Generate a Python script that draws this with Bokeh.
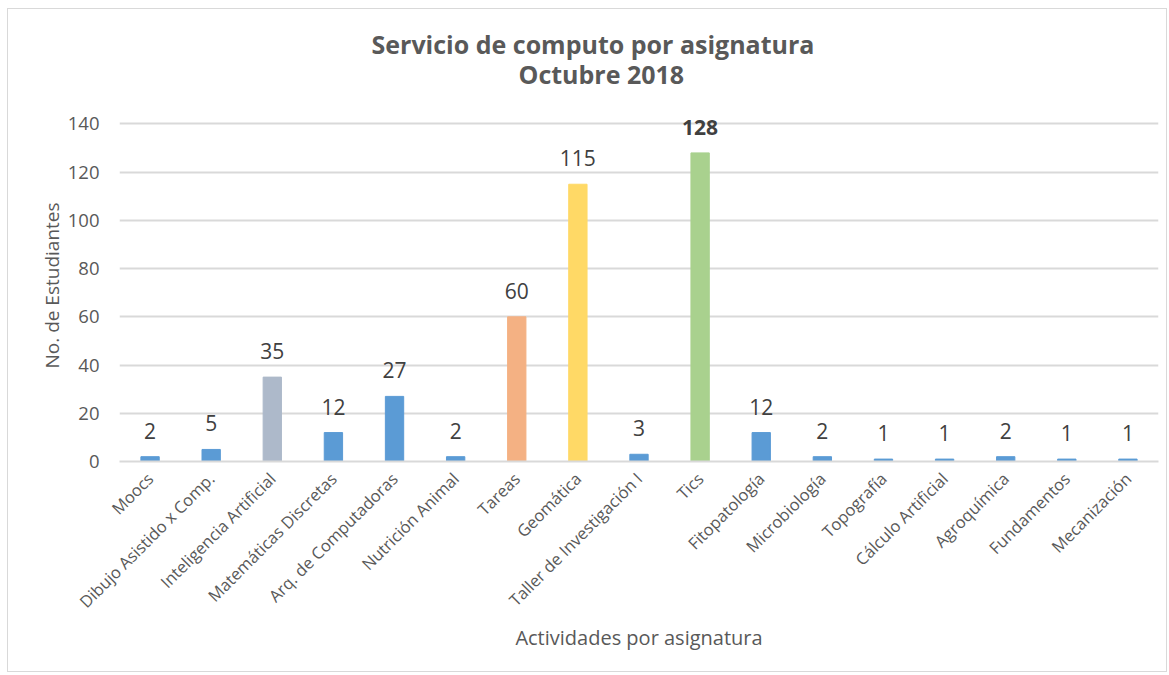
import math
from bokeh.plotting import figure
from bokeh.models import ColumnDataSource, LabelSet, FactorRange, Range1d, Title
from bokeh.core.properties import value
from bokeh.embed import file_html
from bokeh.resources import INLINE

categories = ["Moocs", "Dibujo Asistido x Comp.", "Inteligencia Artificial", "Matemáticas Discretas",
              "Arq. de Computadoras", "Nutrición Animal", "Tareas", "Geomática", "Taller de Investigación I",
              "Tics", "Fitopatología", "Microbiología", "Topografía", "Cálculo Artificial", "Agroquímica",
              "Fundamentos", "Mecanización"]
values = [2, 5, 35, 12, 27, 2, 60, 115, 3, 128, 12, 2, 1, 1, 2, 1, 1]
colors = ["#5B9BD5", "#5B9BD5", "#ADB9CA", "#5B9BD5", "#5B9BD5", "#5B9BD5", "#F4B183", "#FFD966",
          "#5B9BD5", "#A9D18E", "#5B9BD5", "#5B9BD5", "#5B9BD5", "#5B9BD5", "#5B9BD5", "#5B9BD5", "#5B9BD5"]
y_ticks = [0, 20, 40, 60, 80, 100, 120, 140]
title_lines = ["Servicio de computo por asignatura", "Octubre 2018"]

FONT = "Open Sans"
TXT = "#595959"

labels_txt = [str(v) for v in values]
bold = ["bold" if v == max(values) else "normal" for v in values]
src = ColumnDataSource(dict(x=categories, top=values, color=colors, lab=labels_txt, fs=bold))

p = figure(x_range=FactorRange(*categories), y_range=Range1d(0, 146),
           width=1160, height=664, output_backend="svg", toolbar_location=None,
           min_border_left=111, min_border_right=10, min_border_top=100, min_border_bottom=212)
p.title = None
p.styles = {"border": "1px solid #D9D9D9", "margin-left": "7px", "margin-top": "8px"}
p.outline_line_color = None
p.background_fill_color = "white"
p.border_fill_color = "white"

p.vbar(x="x", top="top", width=0.3, color="color", source=src)

p.add_layout(LabelSet(x="x", y="top", text="lab", source=src, text_align="center",
                      text_baseline="bottom", y_offset=18, text_font_size="21px",
                      text_color="#404040", text_font=value(FONT), text_font_style="fs"))

p.xaxis.major_label_orientation = math.pi / 4
p.xaxis.major_label_text_font = FONT
p.xaxis.major_label_text_font_size = "16.5px"
p.xaxis.major_label_text_color = TXT
p.xaxis.major_tick_line_color = None
p.xaxis.minor_tick_line_color = None
p.xaxis.axis_line_color = "#D9D9D9"
p.xaxis.axis_line_width = 2
p.xaxis.axis_label = "Actividades por asignatura"
p.xaxis.axis_label_text_font = FONT
p.xaxis.axis_label_text_font_size = "20px"
p.xaxis.axis_label_text_font_style = "normal"
p.xaxis.axis_label_text_color = TXT
p.xaxis.axis_label_standoff = 0
p.xaxis.major_label_standoff = 8

p.yaxis.ticker = y_ticks
p.yaxis.major_label_text_font = FONT
p.yaxis.major_label_text_font_size = "18.5px"
p.yaxis.major_label_text_color = TXT
p.yaxis.major_tick_line_color = None
p.yaxis.minor_tick_line_color = None
p.yaxis.axis_line_color = None
p.yaxis.axis_label = "No. de Estudiantes"
p.yaxis.axis_label_text_font = FONT
p.yaxis.axis_label_text_font_size = "19px"
p.yaxis.axis_label_text_font_style = "normal"
p.yaxis.axis_label_text_color = TXT
p.yaxis.major_label_standoff = 14
p.yaxis.axis_label_standoff = 0

p.xgrid.grid_line_color = None
p.ygrid.grid_line_color = "#D9D9D9"
p.ygrid.grid_line_width = 2

# spacer closest to the frame, then the two title lines stacked upward
p.add_layout(Title(text=" ", align="left", standoff=0, text_font=FONT,
                   text_font_size="12.5px", text_color="white"), "above")
p.add_layout(Title(text=title_lines[1], align="left", offset=399, standoff=0,
                   text_font=FONT, text_font_size="25px", text_font_style="bold",
                   text_color=TXT), "above")
p.add_layout(Title(text=title_lines[0], align="left", offset=252, standoff=-13,
                   text_font=FONT, text_font_size="25px", text_font_style="bold",
                   text_color=TXT), "above")

open("out.html", "w").write(file_html(p, INLINE))
